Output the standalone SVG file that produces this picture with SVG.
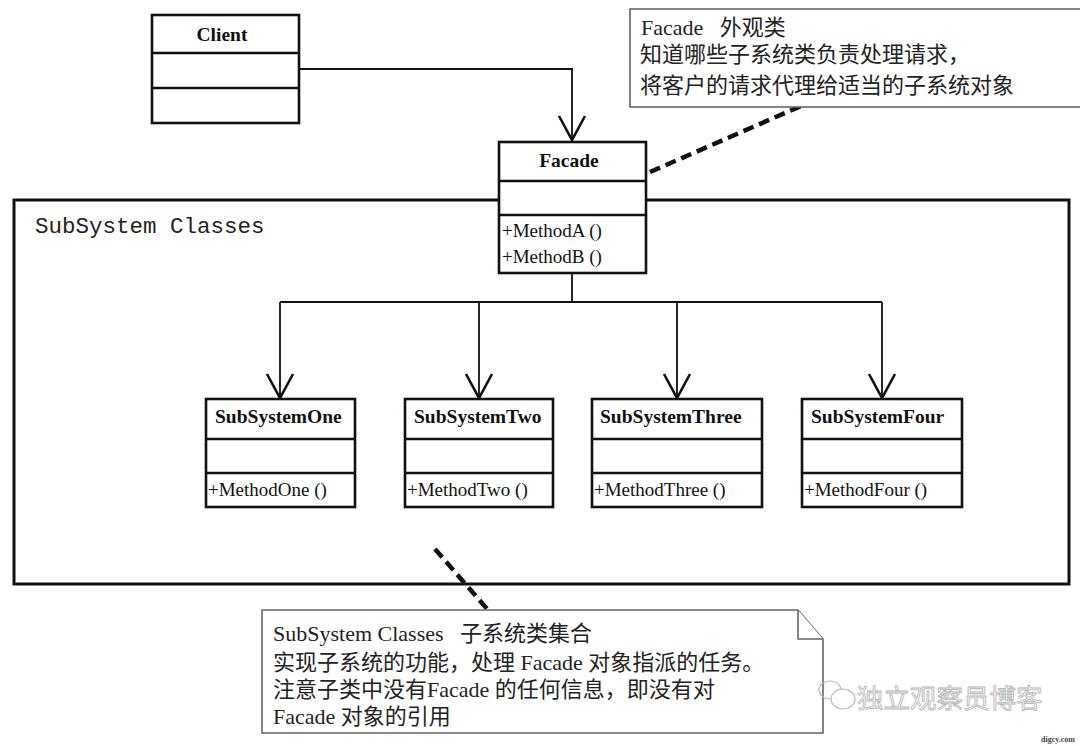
<svg xmlns="http://www.w3.org/2000/svg" width="1080" height="746" viewBox="0 0 1080 746">
<defs>
<style>
.box{fill:#fff;stroke:#111;stroke-width:2.6}
.sep{stroke:#111;stroke-width:2.4}
.title{font-family:"Liberation Serif","Noto Sans CJK SC",serif;font-weight:bold;font-size:19.5px;fill:#111}
.meth{font-family:"Liberation Serif","Noto Sans CJK SC",serif;font-size:19px;fill:#111}
.conn{fill:none;stroke:#111;stroke-width:1.8}
.head{fill:none;stroke:#111;stroke-width:2.6;stroke-linejoin:miter}
.dash{fill:none;stroke:#111;stroke-width:4.5;stroke-dasharray:11 6}
.note{fill:#fff;stroke:#666;stroke-width:1.6}
.ntext{font-family:"Liberation Serif","Noto Sans CJK SC",serif;font-size:22px;fill:#222;white-space:pre}
</style>
</defs>
<rect width="1080" height="746" fill="#fff"/>

<g id="subsystem-container">
<rect x="14" y="200" width="1055" height="384" fill="none" stroke="#111" stroke-width="3"/>
<text x="35" y="233" font-family="Liberation Mono, monospace" font-size="22.5" fill="#222">SubSystem Classes</text>
</g>

<g id="connectors">
<polyline class="conn" points="299,69 572,69 572,141"/>
<polyline class="head" points="559,116 572,140 585,116"/>
<line class="conn" x1="572" y1="273" x2="572" y2="302"/>
<line class="conn" x1="280" y1="302" x2="882" y2="302"/>
<line class="conn" x1="280" y1="302" x2="280" y2="398"/>
<line class="conn" x1="479" y1="302" x2="479" y2="398"/>
<line class="conn" x1="677" y1="302" x2="677" y2="398"/>
<line class="conn" x1="882" y1="302" x2="882" y2="398"/>
<polyline class="head" points="267,374 280,398 293,374"/>
<polyline class="head" points="466,374 479,398 492,374"/>
<polyline class="head" points="664,374 677,398 690,374"/>
<polyline class="head" points="869,374 882,398 895,374"/>
<line class="dash" x1="650" y1="172" x2="801" y2="106"/>
<line class="dash" x1="435" y1="549" x2="488" y2="610"/>
</g>

<g id="client">
<rect class="box" x="152" y="15" width="147" height="108"/>
<line class="sep" x1="152" y1="53" x2="299" y2="53"/>
<line class="sep" x1="152" y1="88" x2="299" y2="88"/>
<text class="title" x="222" y="41" text-anchor="middle">Client</text>
</g>

<g id="facade">
<rect class="box" x="499" y="142" width="147" height="131"/>
<line class="sep" x1="499" y1="181" x2="646" y2="181"/>
<line class="sep" x1="499" y1="215" x2="646" y2="215"/>
<text class="title" x="569" y="167" text-anchor="middle">Facade</text>
<text class="meth" x="502" y="237">+MethodA ()</text>
<text class="meth" x="502" y="263">+MethodB ()</text>
</g>

<g id="subsystem-one">
<rect class="box" x="206" y="399" width="149" height="108"/>
<line class="sep" x1="206" y1="439" x2="355" y2="439"/>
<line class="sep" x1="206" y1="473" x2="355" y2="473"/>
<text class="title" x="215" y="423">SubSystemOne</text>
<text class="meth" x="208" y="496">+MethodOne ()</text>
</g>

<g id="subsystem-two">
<rect class="box" x="405" y="399" width="148" height="108"/>
<line class="sep" x1="405" y1="439" x2="553" y2="439"/>
<line class="sep" x1="405" y1="473" x2="553" y2="473"/>
<text class="title" x="414" y="423">SubSystemTwo</text>
<text class="meth" x="407" y="496">+MethodTwo ()</text>
</g>

<g id="subsystem-three">
<rect class="box" x="592" y="399" width="170" height="108"/>
<line class="sep" x1="592" y1="439" x2="762" y2="439"/>
<line class="sep" x1="592" y1="473" x2="762" y2="473"/>
<text class="title" x="600" y="423">SubSystemThree</text>
<text class="meth" x="594" y="496">+MethodThree ()</text>
</g>

<g id="subsystem-four">
<rect class="box" x="802" y="399" width="160" height="108"/>
<line class="sep" x1="802" y1="439" x2="962" y2="439"/>
<line class="sep" x1="802" y1="473" x2="962" y2="473"/>
<text class="title" x="811" y="423">SubSystemFour</text>
<text class="meth" x="804" y="496">+MethodFour ()</text>
</g>

<g id="note-facade">
<rect class="note" x="630" y="9" width="470" height="98"/>
<text class="ntext" x="641" y="35" xml:space="preserve">Facade   外观类</text>
<text class="ntext" x="640" y="62">知道哪些子系统类负责处理请求，</text>
<text class="ntext" x="640" y="93">将客户的请求代理给适当的子系统对象</text>
</g>

<g id="note-subsystem">
<path class="note" d="M262,610 H798 L823,639 V733 H262 Z"/>
<polyline class="note" points="798,610 798,639 823,639" fill="none"/>
<text class="ntext" x="273" y="641" font-size="21" xml:space="preserve">SubSystem Classes   子系统类集合</text>
<text class="ntext" x="273" y="670" font-size="21">实现子系统的功能，处理 Facade 对象指派的任务。</text>
<text class="ntext" x="273" y="697" font-size="21">注意子类中没有Facade 的任何信息，即没有对</text>
<text class="ntext" x="273" y="724" font-size="21">Facade 对象的引用</text>
</g>

<g id="watermark">
<ellipse cx="830" cy="690" rx="11" ry="9" fill="none" stroke="#bbb" stroke-width="1.2"/>
<ellipse cx="843" cy="699" rx="12" ry="10" fill="#fff" stroke="#bbb" stroke-width="1.2"/>
<text x="857" y="708" font-family="Noto Sans CJK SC, sans-serif" font-size="26.5" fill="#f7f7f7" stroke="#b5b5b5" stroke-width="0.8">独立观察员博客</text>
<text x="1075" y="742" text-anchor="end" font-family="Liberation Serif, serif" font-weight="bold" font-size="8" fill="#444">digcy.com</text>
</g>
</svg>
